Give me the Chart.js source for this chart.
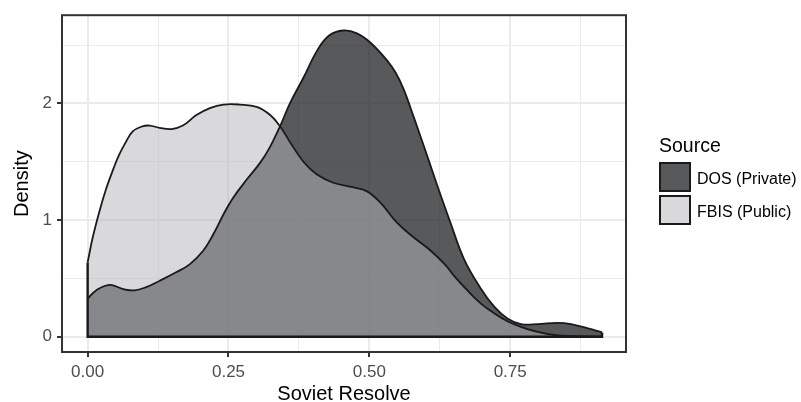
<!DOCTYPE html>
<html>
<head>
<meta charset="utf-8">
<script src="https://cdn.jsdelivr.net/npm/chart.js@4.4.0/dist/chart.umd.min.js"></script>
<style>
html, body { margin: 0; padding: 0; background: #fff; }
</style>
</head>
<body>
<canvas id="densityc" width="801" height="402"></canvas>
<script>
// Data

var fbisX = [0, 0.009, 0.021, 0.033, 0.045, 0.056, 0.068, 0.080, 0.095, 0.110, 0.128, 0.149, 0.169, 0.193, 0.217, 0.241, 0.270, 0.300, 0.324, 0.342, 0.359, 0.383, 0.407, 0.436, 0.472, 0.496, 0.520, 0.549, 0.579, 0.609, 0.636, 0.650, 0.674, 0.698, 0.722, 0.745, 0.769, 0.793, 0.817, 0.840, 0.870, 0.913];
var fbisY = [0.637, 0.85, 1.076, 1.27, 1.43, 1.56, 1.67, 1.76, 1.80, 1.81, 1.79, 1.78, 1.81, 1.90, 1.96, 1.99, 1.99, 1.97, 1.90, 1.80, 1.67, 1.50, 1.39, 1.32, 1.28, 1.246, 1.147, 0.977, 0.85, 0.737, 0.61, 0.524, 0.397, 0.284, 0.199, 0.133, 0.085, 0.048, 0.023, 0.01, 0.004, 0.001];

var dosX = [0, 0.015, 0.039, 0.062, 0.083, 0.104, 0.128, 0.157, 0.181, 0.205, 0.223, 0.241, 0.258, 0.282, 0.306, 0.324, 0.342, 0.359, 0.383, 0.407, 0.428, 0.454, 0.478, 0.502, 0.532, 0.547, 0.561, 0.579, 0.597, 0.621, 0.644, 0.668, 0.698, 0.722, 0.745, 0.769, 0.799, 0.834, 0.858, 0.888, 0.913];
var dosY = [0.326, 0.397, 0.445, 0.41, 0.397, 0.425, 0.48, 0.552, 0.62, 0.737, 0.878, 1.048, 1.19, 1.345, 1.49, 1.63, 1.81, 2.0, 2.22, 2.45, 2.58, 2.625, 2.60, 2.52, 2.365, 2.26, 2.12, 1.88, 1.63, 1.29, 0.977, 0.666, 0.411, 0.255, 0.156, 0.108, 0.108, 0.119, 0.108, 0.071, 0.037];

var xMajor = [0, 0.25, 0.5, 0.75];
var xMinor = [0.125, 0.375, 0.625, 0.875];
var yMajor = [0, 1, 2];
var yMinor = [0.5, 1.5, 2.5];

var seriesNames = ["DOS (Private)", "FBIS (Public)"];
var legendTitle = "Source";
var xTitle = "Soviet Resolve";
var yTitle = "Density";

// Colours

var dosFill = "rgba(32,33,36,0.75)";
var fbisFill = "rgba(181,182,185,0.515)";
var lineCol = "#1a1a1a";
var font = "'Liberation Sans', Arial, sans-serif";

function pts(xs, ys) {
	return xs.map(function(x, i) { return {x: x, y: ys[i]}; });
}

// outline of the polygons: left edge, baseline, right edge
var edgePts = [
	{x: fbisX[0], y: fbisY[0]},
	{x: fbisX[0], y: 0},
	{x: dosX[dosX.length - 1], y: 0},
	{x: dosX[dosX.length - 1], y: dosY[dosY.length - 1]}
];

function isIn(list, v) {
	return list.some(function(m) { return Math.abs(m - v) < 1e-9; });
}

var frame = {
	id: 'frame',
	afterDatasetsDraw: function(chart) {
		var c = chart.ctx, a = chart.chartArea;
		c.save();
		c.strokeStyle = '#333333';
		c.lineWidth = 2;
		c.strokeRect(a.left, a.top, a.right - a.left, a.bottom - a.top);
		c.restore();
	},
	afterDraw: function(chart) {
		var c = chart.ctx, a = chart.chartArea;
		c.save();
		c.fillStyle = '#000';
		c.textAlign = 'center';
		c.textBaseline = 'alphabetic';
		c.font = "20px " + font;
		c.fillText(xTitle, (a.left + a.right) / 2, 400);
		c.translate(28, (a.top + a.bottom) / 2);
		c.rotate(-Math.PI / 2);
		c.fillText(yTitle, 0, 0);
		c.restore();

		// legend
		c.save();
		c.fillStyle = '#000';
		c.textAlign = 'left';
		c.textBaseline = 'alphabetic';
		c.font = "19.5px " + font;
		c.fillText(legendTitle, 659, 152);
		var fills = [dosFill, fbisFill];
		var tops = [162, 195];
		c.font = "16px " + font;
		for (var i = 0; i < 2; i++) {
			c.fillStyle = '#fff';
			c.fillRect(659, tops[i], 32, 30);
			c.fillStyle = fills[i];
			c.fillRect(659, tops[i], 32, 30);
			c.strokeStyle = lineCol;
			c.lineWidth = 2;
			c.strokeRect(660, tops[i] + 1, 30, 28);
			c.fillStyle = '#000';
			c.fillText(seriesNames[i], 697, tops[i] + 22);
		}
		c.restore();
	}
};

new Chart("densityc", {
	type: "line",
	data: {
		datasets: [{
			label: seriesNames[1],
			data: pts(fbisX, fbisY),
			backgroundColor: fbisFill,
			borderColor: lineCol,
			borderWidth: 1.8,
			fill: 'origin',
			tension: 0.4
		},
		{
			label: seriesNames[0],
			data: pts(dosX, dosY),
			backgroundColor: dosFill,
			borderColor: lineCol,
			borderWidth: 1.8,
			fill: 'origin',
			tension: 0.4
		},
		{
			label: 'edge',
			data: edgePts,
			borderColor: lineCol,
			borderWidth: 2.4,
			fill: false,
			tension: 0
		}]
	},
	options: {
		responsive: false,
		animation: false,
		layout: {padding: {left: 0, top: 12, right: 175, bottom: 0}},
		elements: {point: {radius: 0}},
		plugins: {
			legend: {display: false},
			tooltip: {enabled: false},
			filler: {drawTime: 'beforeDatasetsDraw'}
		},
		scales: {
			x: {
				type: 'linear',
				min: -0.0455,
				max: 0.9555,
				afterBuildTicks: function(s) {
					s.ticks = xMajor.concat(xMinor).sort().map(function(v) { return {value: v}; });
				},
				afterFit: function(s) { s.height = 50; },
				border: {display: false},
				grid: {
					color: '#ebebeb',
					lineWidth: function(ctx) { return isIn(xMajor, ctx.tick.value) ? 2 : 1; },
					tickLength: 5,
					tickWidth: 2,
					tickColor: function(ctx) { return isIn(xMajor, ctx.tick.value) ? '#333333' : 'rgba(0,0,0,0)'; }
				},
				ticks: {
					autoSkip: false,
					maxRotation: 0,
					padding: 5,
					color: '#4d4d4d',
					font: {family: font, size: 17},
					callback: function(v) { return isIn(xMajor, v) ? v.toFixed(2) : ''; }
				}
			},
			y: {
				type: 'linear',
				min: -0.131,
				max: 2.756,
				afterBuildTicks: function(s) {
					s.ticks = yMajor.concat(yMinor).sort().map(function(v) { return {value: v}; });
				},
				afterFit: function(s) { s.width = 62; },
				border: {display: false},
				grid: {
					color: '#ebebeb',
					lineWidth: function(ctx) { return isIn(yMajor, ctx.tick.value) ? 2 : 1; },
					tickLength: 5,
					tickWidth: 2,
					tickColor: function(ctx) { return isIn(yMajor, ctx.tick.value) ? '#333333' : 'rgba(0,0,0,0)'; }
				},
				ticks: {
					autoSkip: false,
					padding: 5,
					color: '#4d4d4d',
					font: {family: font, size: 17},
					callback: function(v) { return isIn(yMajor, v) ? String(v) : ''; }
				}
			}
		}
	},
	plugins: [frame]
});
</script>
</body>
</html>
